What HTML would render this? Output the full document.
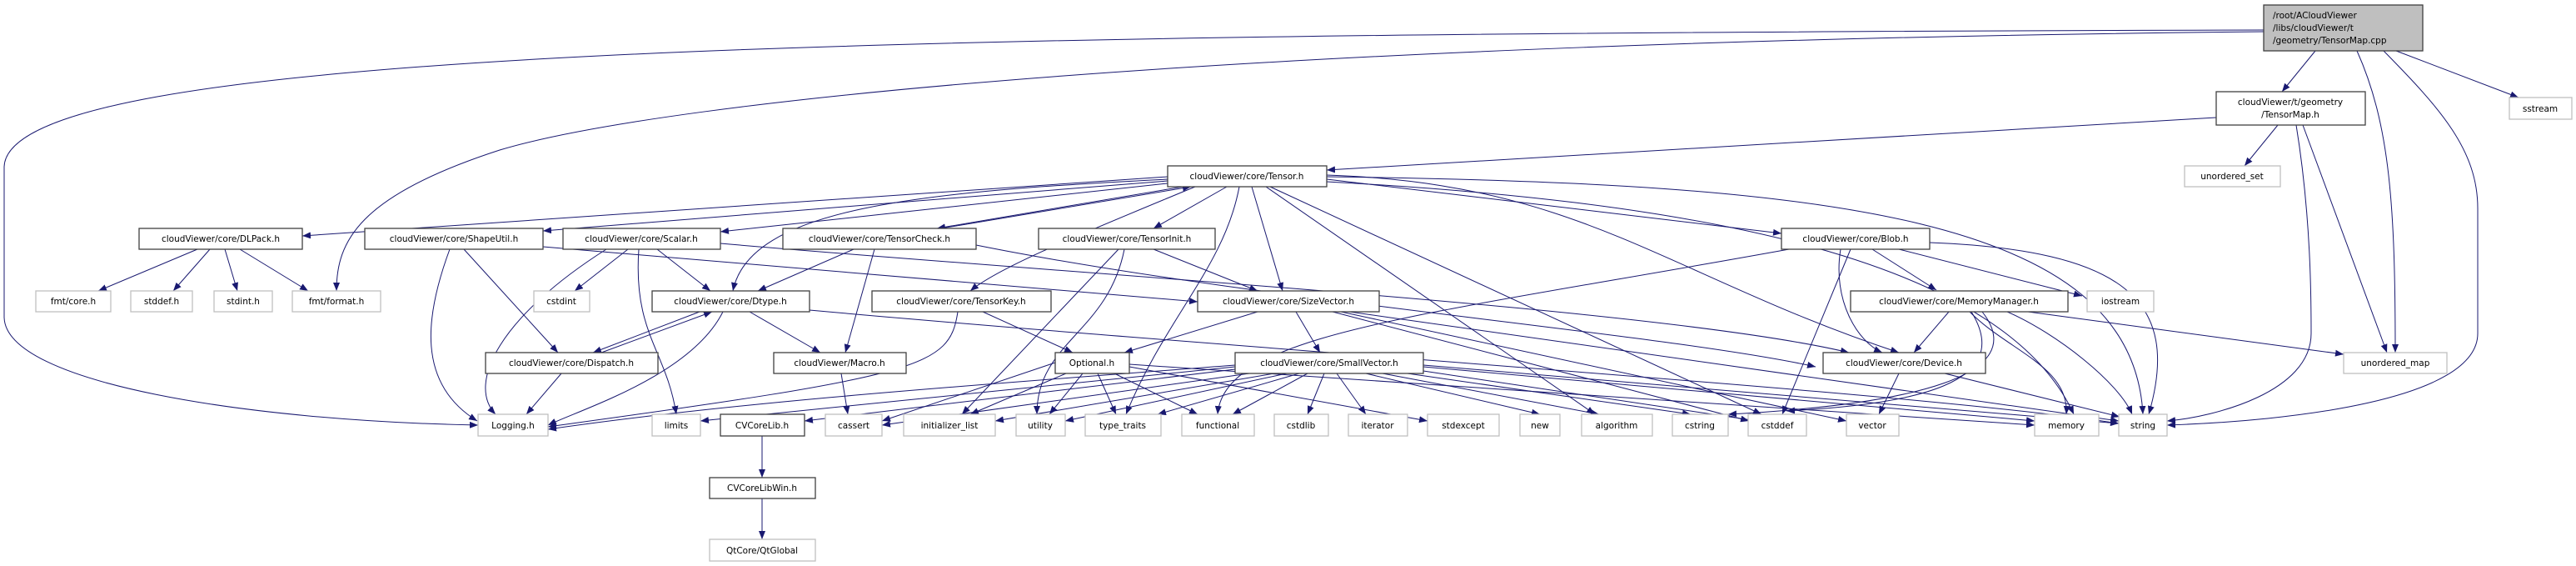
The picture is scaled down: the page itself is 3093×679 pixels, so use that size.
<!DOCTYPE html>
<html><head><meta charset="utf-8"><style>
html,body{margin:0;padding:0;background:#fff;}
svg{display:block;}
text{font-family:"DejaVu Sans","Liberation Sans",sans-serif;font-size:10.5px;fill:#000;}
.e{fill:none;stroke:#191970;stroke-width:1;marker-end:url(#a);}
.d{fill:#fff;stroke:#404040;stroke-width:1.3;}
.s{fill:#fff;stroke:#bfbfbf;stroke-width:1.3;}
</style></head><body>
<svg width="3093" height="679" viewBox="0 0 3093 679" xmlns="http://www.w3.org/2000/svg">
<defs><marker id="a" markerWidth="10" markerHeight="8" refX="10" refY="4" orient="auto" markerUnits="userSpaceOnUse"><path d="M0,0 L10,4 L0,8 z" fill="#191970"/></marker></defs>
<g>
<path class="e" d="M2780,61 L2740,110"/>
<path class="e" d="M2830,61 C2870,150 2876,250 2876,423"/>
<path class="e" d="M2862,61 C2930,130 2975,180 2975,250 L2975,400 C2975,480 2750,505 2602,510"/>
<path class="e" d="M2877,61 L3024,117"/>
<path class="e" d="M2718,36 C1000,40 10,60 5,200 L5,380 C5,460 300,505 574,510"/>
<path class="e" d="M2718,38 C1500,50 800,120 600,180 C430,235 404,290 404,349"/>
<path class="e" d="M2661,141 L1593,204"/>
<path class="e" d="M2735,150 L2695,199"/>
<path class="e" d="M2757,150 C2775,260 2775,360 2775,400 C2775,470 2660,500 2602,505"/>
<path class="e" d="M2765,150 L2866,423"/>
<path class="e" d="M1402,212 L363,283"/>
<path class="e" d="M1402,217 L652,277"/>
<path class="e" d="M1402,220 L865,278"/>
<path class="e" d="M1420,224 L1125,274"/>
<path class="e" d="M1130,274 L1430,224"/>
<path class="e" d="M1402,215 C1100,230 900,250 880,349"/>
<path class="e" d="M1473,224 L1385,274"/>
<path class="e" d="M1435,224 C1300,280 1200,320 1165,349"/>
<path class="e" d="M1503,224 L1540,349"/>
<path class="e" d="M1488,224 C1470,320 1400,380 1352,497"/>
<path class="e" d="M1593,215 L2139,280"/>
<path class="e" d="M1593,210 C1900,220 2000,330 2280,423"/>
<path class="e" d="M1520,224 L1915,497"/>
<path class="e" d="M1525,224 L2115,497"/>
<path class="e" d="M1593,212 C2200,220 2560,260 2573,497"/>
<path class="e" d="M1593,218 C2000,240 2400,300 2490,497"/>
<path class="e" d="M237,299 L118,349"/>
<path class="e" d="M252,299 L208,349"/>
<path class="e" d="M270,299 L285,349"/>
<path class="e" d="M288,299 L370,349"/>
<path class="e" d="M540,299 C510,380 500,460 573,505"/>
<path class="e" d="M557,299 L670,423"/>
<path class="e" d="M652,296 L1438,362"/>
<path class="e" d="M728,299 C600,380 560,460 595,497"/>
<path class="e" d="M754,299 L690,349"/>
<path class="e" d="M767,299 C760,400 800,420 812,497"/>
<path class="e" d="M789,299 L853,349"/>
<path class="e" d="M865,292 C1300,330 2000,370 2220,423"/>
<path class="e" d="M1025,299 L910,349"/>
<path class="e" d="M1050,299 L1015,423"/>
<path class="e" d="M1172,294 C1500,360 2000,400 2180,440"/>
<path class="e" d="M840,374 L712,423"/>
<path class="e" d="M722,423 L855,374"/>
<path class="e" d="M900,374 L985,423"/>
<path class="e" d="M868,374 C830,450 700,490 658,510"/>
<path class="e" d="M972,372 C1500,420 2300,470 2544,508"/>
<path class="e" d="M674,448 L632,497"/>
<path class="e" d="M1010,448 L1018,497"/>
<path class="e" d="M1343,299 L1155,497"/>
<path class="e" d="M1350,299 C1330,400 1245,410 1245,497"/>
<path class="e" d="M1385,299 L1510,349"/>
<path class="e" d="M1150,374 C1140,440 1110,450 658,512"/>
<path class="e" d="M1180,374 L1288,423"/>
<path class="e" d="M1510,374 L1350,423"/>
<path class="e" d="M1556,374 L1585,423"/>
<path class="e" d="M1600,374 L2100,505"/>
<path class="e" d="M1620,374 L2544,505"/>
<path class="e" d="M1610,374 L2217,505"/>
<path class="e" d="M1267,435 L1059,505"/>
<path class="e" d="M1280,448 L1165,497"/>
<path class="e" d="M1300,448 L1260,497"/>
<path class="e" d="M1318,448 L1340,497"/>
<path class="e" d="M1338,448 L1438,497"/>
<path class="e" d="M1356,440 L1714,505"/>
<path class="e" d="M1356,437 L2443,510"/>
<path class="e" d="M1483,443 L966,505"/>
<path class="e" d="M1500,448 L1059,510"/>
<path class="e" d="M1530,448 L1195,505"/>
<path class="e" d="M1545,448 L1279,505"/>
<path class="e" d="M1560,448 L1390,497"/>
<path class="e" d="M1570,448 L1480,497"/>
<path class="e" d="M1590,448 L1570,497"/>
<path class="e" d="M1605,448 L1640,497"/>
<path class="e" d="M1640,448 L1849,497"/>
<path class="e" d="M1660,448 L1920,497"/>
<path class="e" d="M1690,448 L2030,497"/>
<path class="e" d="M1709,445 L2110,505"/>
<path class="e" d="M1709,440 L2443,505"/>
<path class="e" d="M1709,438 L2544,508"/>
<path class="e" d="M1483,438 C1200,460 900,480 658,515"/>
<path class="e" d="M1483,440 L841,505"/>
<path class="e" d="M2148,299 C1700,380 1470,400 1462,497"/>
<path class="e" d="M2222,299 L2140,497"/>
<path class="e" d="M2210,299 C2200,360 2230,410 2260,423"/>
<path class="e" d="M2248,299 L2325,348"/>
<path class="e" d="M2280,299 L2500,355"/>
<path class="e" d="M2317,291 C2550,300 2620,360 2580,497"/>
<path class="e" d="M2340,374 L2298,423"/>
<path class="e" d="M2435,374 L2814,425"/>
<path class="e" d="M2365,374 C2410,420 2485,440 2481,497"/>
<path class="e" d="M2410,374 C2470,400 2545,460 2560,497"/>
<path class="e" d="M2367,374 C2420,460 2300,485 2145,493"/>
<path class="e" d="M2380,374 C2440,450 2300,485 2075,497"/>
<path class="e" d="M2280,448 L2256,497"/>
<path class="e" d="M2335,448 L2545,500"/>
<path class="e" d="M915,523 L915,573"/>
<path class="e" d="M915,598 L915,647"/>
</g>
<g text-anchor="middle">
<rect x="2718" y="6" width="191" height="55" fill="#bfbfbf" stroke="#404040" stroke-width="1.3"/>
<text x="2729" y="22" text-anchor="start">/root/ACloudViewer</text>
<text x="2729" y="37" text-anchor="start">/libs/cloudViewer/t</text>
<text x="2729" y="52" text-anchor="start">/geometry/TensorMap.cpp</text>
<rect class="d" x="2661" y="110" width="179" height="40"/><text x="2750" y="126">cloudViewer/t/geometry</text><text x="2750" y="141">/TensorMap.h</text>
<rect class="s" x="3013" y="117" width="75" height="26"/><text x="3050" y="134">sstream</text>
<rect class="d" x="1402" y="199" width="191" height="25"/><text x="1497" y="215">cloudViewer/core/Tensor.h</text>
<rect class="s" x="2623" y="199" width="115" height="25"/><text x="2680" y="215">unordered_set</text>
<rect class="d" x="167" y="274" width="196" height="25"/><text x="265" y="290">cloudViewer/core/DLPack.h</text>
<rect class="d" x="438" y="274" width="214" height="25"/><text x="545" y="290">cloudViewer/core/ShapeUtil.h</text>
<rect class="d" x="676" y="274" width="189" height="25"/><text x="770" y="290">cloudViewer/core/Scalar.h</text>
<rect class="d" x="940" y="274" width="232" height="25"/><text x="1056" y="290">cloudViewer/core/TensorCheck.h</text>
<rect class="d" x="1247" y="274" width="212" height="25"/><text x="1353" y="290">cloudViewer/core/TensorInit.h</text>
<rect class="d" x="2139" y="274" width="178" height="25"/><text x="2228" y="290">cloudViewer/core/Blob.h</text>
<rect class="s" x="43" y="349" width="90" height="25"/><text x="88" y="365">fmt/core.h</text>
<rect class="s" x="157" y="349" width="74" height="25"/><text x="194" y="365">stddef.h</text>
<rect class="s" x="257" y="349" width="70" height="25"/><text x="292" y="365">stdint.h</text>
<rect class="s" x="351" y="349" width="106" height="25"/><text x="404" y="365">fmt/format.h</text>
<rect class="s" x="641" y="349" width="67" height="25"/><text x="674" y="365">cstdint</text>
<rect class="d" x="783" y="349" width="189" height="25"/><text x="877" y="365">cloudViewer/core/Dtype.h</text>
<rect class="d" x="1047" y="349" width="215" height="25"/><text x="1154" y="365">cloudViewer/core/TensorKey.h</text>
<rect class="d" x="1438" y="349" width="218" height="25"/><text x="1547" y="365">cloudViewer/core/SizeVector.h</text>
<rect class="d" x="2222" y="349" width="261" height="25"/><text x="2352" y="365">cloudViewer/core/MemoryManager.h</text>
<rect class="s" x="2506" y="349" width="80" height="25"/><text x="2546" y="365">iostream</text>
<rect class="d" x="583" y="423" width="207" height="25"/><text x="686" y="439">cloudViewer/core/Dispatch.h</text>
<rect class="d" x="929" y="423" width="159" height="25"/><text x="1008" y="439">cloudViewer/Macro.h</text>
<rect class="d" x="1267" y="423" width="89" height="25"/><text x="1311" y="439">Optional.h</text>
<rect class="d" x="1483" y="423" width="226" height="25"/><text x="1596" y="439">cloudViewer/core/SmallVector.h</text>
<rect class="d" x="2189" y="423" width="195" height="25"/><text x="2286" y="439">cloudViewer/core/Device.h</text>
<rect class="s" x="2814" y="423" width="124" height="25"/><text x="2876" y="439">unordered_map</text>
<rect class="s" x="574" y="497" width="84" height="26"/><text x="616" y="514">Logging.h</text>
<rect class="s" x="783" y="497" width="58" height="26"/><text x="812" y="514">limits</text>
<rect class="d" x="865" y="497" width="101" height="26"/><text x="915" y="514">CVCoreLib.h</text>
<rect class="s" x="991" y="497" width="68" height="26"/><text x="1025" y="514">cassert</text>
<rect class="s" x="1085" y="497" width="110" height="26"/><text x="1140" y="514">initializer_list</text>
<rect class="s" x="1220" y="497" width="59" height="26"/><text x="1249" y="514">utility</text>
<rect class="s" x="1303" y="497" width="91" height="26"/><text x="1348" y="514">type_traits</text>
<rect class="s" x="1419" y="497" width="87" height="26"/><text x="1462" y="514">functional</text>
<rect class="s" x="1530" y="497" width="65" height="26"/><text x="1562" y="514">cstdlib</text>
<rect class="s" x="1619" y="497" width="71" height="26"/><text x="1654" y="514">iterator</text>
<rect class="s" x="1714" y="497" width="86" height="26"/><text x="1757" y="514">stdexcept</text>
<rect class="s" x="1825" y="497" width="48" height="26"/><text x="1849" y="514">new</text>
<rect class="s" x="1899" y="497" width="85" height="26"/><text x="1941" y="514">algorithm</text>
<rect class="s" x="2008" y="497" width="67" height="26"/><text x="2041" y="514">cstring</text>
<rect class="s" x="2099" y="497" width="70" height="26"/><text x="2134" y="514">cstddef</text>
<rect class="s" x="2217" y="497" width="63" height="26"/><text x="2248" y="514">vector</text>
<rect class="s" x="2443" y="497" width="77" height="26"/><text x="2481" y="514">memory</text>
<rect class="s" x="2544" y="497" width="58" height="26"/><text x="2573" y="514">string</text>
<rect class="d" x="852" y="573" width="127" height="25"/><text x="915" y="589">CVCoreLibWin.h</text>
<rect class="s" x="852" y="647" width="127" height="26"/><text x="915" y="664">QtCore/QtGlobal</text>
</g>
</svg>
</body></html>
